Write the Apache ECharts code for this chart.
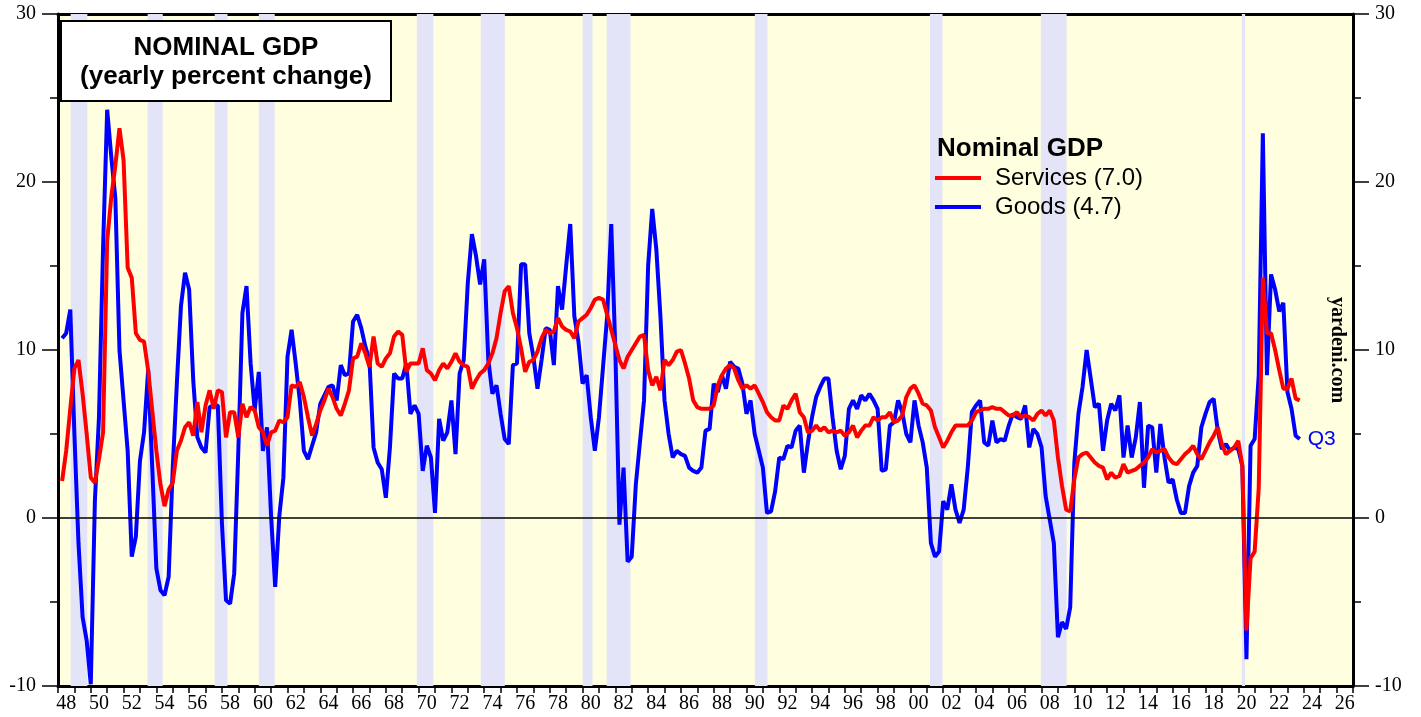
<!DOCTYPE html>
<html>
<head>
<meta charset="utf-8">
<title>Nominal GDP</title>
<script src="https://cdn.jsdelivr.net/npm/echarts@6/dist/echarts.min.js"></script>
<style>
    html, body { margin: 0; padding: 0; background: #fff; }
    #chart { width: 1421px; height: 717px; }
</style>
</head>
<body>
<div id="chart"></div>
<script>
/** data start */

// quarterly yearly percent change, first value = 1948 Q1 (plotted at quarter end)
var firstYear = 1948;

var services = [
    2.2, 4.0, 6.5, 8.9,      // 1948
    9.4, 7.4, 5.0, 2.4,
    2.1, 3.5, 5.1, 16.5,     // 1950
    19.1, 21.0, 23.2, 21.3,
    14.9, 14.3, 11.0, 10.6,
    10.5, 8.8, 6.4, 4.0,
    2.0, 0.7, 1.7, 2.1,
    4.0, 4.6, 5.4, 5.7,      // 1955
    4.9, 6.9, 5.1, 6.7,
    7.6, 6.5, 7.6, 7.5,
    4.8, 6.3, 6.3, 4.8,
    6.8, 6.0, 6.6, 6.4,
    5.4, 5.1, 4.3, 5.1,      // 1960
    5.2, 5.8, 5.7, 6.0,
    7.9, 7.8, 8.1, 7.2,
    6.0, 4.9, 5.6, 6.4,
    7.0, 7.7, 7.2, 6.5,
    6.1, 6.8, 7.6, 9.5,      // 1965
    9.6, 10.4, 9.8, 9.0,
    10.8, 9.2, 9.0, 9.5,
    9.8, 10.8, 11.1, 10.9,
    8.7, 9.2, 9.2, 9.2,
    10.1, 8.8, 8.6, 8.2,     // 1970
    8.8, 9.2, 8.9, 9.3,
    9.8, 9.3, 9.1, 9.0,
    7.7, 8.2, 8.6, 8.8,
    9.2, 9.8, 10.7, 12.2,
    13.5, 13.8, 12.2, 11.3,  // 1975
    10.1, 8.7, 9.3, 9.4,
    9.9, 10.7, 11.2, 11.0,
    11.1, 11.9, 11.4, 11.2,
    11.1, 10.7, 11.7, 11.9,
    12.1, 12.5, 13.0, 13.1,  // 1980
    13.0, 12.1, 11.2, 10.3,
    9.4, 8.9, 9.6, 10.0,
    10.4, 10.8, 10.9, 8.8,
    7.9, 8.4, 7.6, 9.4,
    9.1, 9.4, 9.9, 10.0,     // 1985
    9.2, 8.3, 7.0, 6.6,
    6.5, 6.5, 6.5, 6.7,
    7.9, 8.5, 8.9, 9.1,
    8.9, 8.2, 7.7, 7.9,
    7.7, 7.9, 7.4, 6.9,      // 1990
    6.3, 6.0, 5.8, 5.8,
    6.7, 6.5, 7.0, 7.4,
    6.3, 6.0, 5.1, 5.2,
    5.5, 5.2, 5.4, 5.1,
    5.2, 5.1, 5.2, 4.9,      // 1995
    5.1, 5.5, 4.8, 5.2,
    5.5, 5.5, 6.0, 5.8,
    6.0, 6.0, 6.3, 5.7,
    5.8, 6.1, 7.2, 7.7,
    7.9, 7.4, 6.8, 6.7,      // 2000
    6.4, 5.4, 4.8, 4.2,
    4.6, 5.1, 5.5, 5.5,
    5.5, 5.5, 5.8, 6.3,
    6.4, 6.5, 6.5, 6.6,
    6.5, 6.5, 6.3, 6.1,      // 2005
    6.1, 6.3, 6.0, 6.1,
    6.0, 5.8, 6.2, 6.4,
    6.1, 6.4, 5.8, 3.6,
    1.9, 0.5, 0.4, 2.3,
    3.6, 3.8, 3.9, 3.6,      // 2010
    3.3, 3.1, 3.0, 2.3,
    2.7, 2.4, 2.5, 3.2,
    2.7, 2.8, 2.9, 3.1,
    3.3, 3.6, 4.1, 3.9,
    4.0, 4.1, 3.6, 3.3,      // 2015
    3.2, 3.5, 3.8, 4.0,
    4.3, 3.8, 3.5, 4.0,
    4.5, 4.9, 5.4, 4.4,
    3.8, 4.0, 4.2, 4.6,
    3.1, -6.7, -2.4, -2.0,   // 2020
    1.8, 14.3, 11.0, 11.0,
    10.0, 8.8, 7.7, 7.7,
    8.3, 7.1, 7.0            // 2023 Q1-Q3
];

var goods = [
    10.7, 11.0, 12.4, 5.0,   // 1948
    -1.5, -5.9, -7.3, -9.9,
    1.0, 6.0, 16.1, 24.3,    // 1950
    21.5, 19.0, 10.0, 7.0,
    4.0, -2.3, -1.1, 3.4,
    5.1, 8.8, 3.0, -3.0,
    -4.3, -4.6, -3.5, 3.0,
    8.0, 12.6, 14.6, 13.6,   // 1955
    8.2, 4.8, 4.2, 3.9,
    6.6, 6.7, 6.7, -0.3,
    -4.9, -5.1, -3.3, 4.0,
    12.2, 13.8, 9.2, 6.4,
    8.7, 4.0, 5.4, 0.1,      // 1960
    -4.1, 0.1, 2.4, 9.6,
    11.2, 9.2, 7.0, 4.0,
    3.5, 4.3, 5.1, 6.8,
    7.3, 7.8, 7.9, 7.0,
    9.1, 8.5, 8.6, 11.7,     // 1965
    12.1, 11.3, 10.2, 9.4,
    4.2, 3.3, 2.9, 1.2,
    4.2, 8.6, 8.3, 8.3,
    9.2, 6.2, 6.7, 6.2,
    2.8, 4.3, 3.6, 0.3,      // 1970
    5.9, 4.6, 5.1, 7.0,
    3.8, 8.6, 9.4, 14.0,
    16.9, 15.6, 13.9, 15.4,
    9.4, 7.4, 7.9, 6.2,
    4.7, 4.4, 9.1, 9.2,      // 1975
    15.1, 15.1, 11.0, 9.6,
    7.7, 9.4, 11.3, 11.2,
    9.1, 13.8, 12.4, 15.0,
    17.5, 12.0, 10.5, 8.0,
    8.5, 6.0, 4.0, 6.0,      // 1980
    9.0, 12.0, 17.5, 10.0,
    -0.4, 3.0, -2.6, -2.3,
    2.0, 4.5, 7.0, 15.0,
    18.4, 16.0, 12.0, 7.0,
    5.0, 3.6, 4.0, 3.8,      // 1985
    3.7, 3.0, 2.8, 2.7,
    3.0, 5.2, 5.3, 8.0,
    7.5, 8.5, 7.7, 9.3,
    9.0, 8.9, 8.0, 6.2,
    7.0, 5.0, 4.0, 3.0,      // 1990
    0.3, 0.4, 1.6, 3.6,
    3.5, 4.3, 4.2, 5.2,
    5.5, 2.7, 4.5, 6.0,
    7.2, 7.8, 8.3, 8.3,
    6.0, 4.0, 2.9, 3.7,      // 1995
    6.5, 7.0, 6.5, 7.3,
    7.0, 7.4, 7.0, 6.5,
    2.8, 2.9, 5.5, 5.7,
    7.0, 6.3, 5.0, 4.5,
    7.0, 5.5, 4.5, 3.0,      // 2000
    -1.5, -2.3, -2.0, 1.0,
    0.5, 2.0, 0.5, -0.3,
    0.5, 3.0, 6.3, 6.7,
    7.0, 4.5, 4.3, 5.8,
    4.5, 4.7, 4.6, 5.5,      // 2005
    6.2, 6.0, 5.9, 6.7,
    4.2, 5.3, 5.0, 4.2,
    1.3, -0.1, -1.5, -7.1,
    -6.2, -6.6, -5.3, 3.3,
    6.2, 7.8, 10.0, 8.3,     // 2010
    6.6, 6.8, 4.0, 5.8,
    6.8, 6.4, 7.3, 3.6,
    5.5, 3.6, 4.8, 6.9,
    1.8, 5.5, 5.4, 2.7,
    5.6, 3.6, 2.1, 2.3,      // 2015
    1.1, 0.3, 0.3, 1.9,
    2.7, 3.1, 5.4, 6.2,
    6.9, 7.1, 5.2, 4.1,
    4.4, 4.0, 4.2, 4.1,
    3.1, -8.4, 4.3, 4.7,     // 2020
    8.5, 22.9, 8.5, 14.5,
    13.6, 12.3, 12.8, 7.5,
    6.5, 4.9, 4.7            // 2023 Q1-Q3
];

// recessions, in fractional years
var recessions = [
    [1948.77, 1949.79], [1953.47, 1954.39], [1957.56, 1958.34], [1960.25, 1961.22],
    [1969.89, 1970.90], [1973.79, 1975.26], [1980.01, 1980.61], [1981.47, 1982.93],
    [1990.51, 1991.28], [2001.19, 2001.96], [2007.96, 2009.53], [2020.22, 2020.42]
];

var yearLabels = [
    '48', '49', '50', '51', '52', '53', '54', '55', '56', '57',
    '58', '59', '60', '61', '62', '63', '64', '65', '66', '67',
    '68', '69', '70', '71', '72', '73', '74', '75', '76', '77',
    '78', '79', '80', '81', '82', '83', '84', '85', '86', '87',
    '88', '89', '90', '91', '92', '93', '94', '95', '96', '97',
    '98', '99', '00', '01', '02', '03', '04', '05', '06', '07',
    '08', '09', '10', '11', '12', '13', '14', '15', '16', '17',
    '18', '19', '20', '21', '22', '23', '24', '25', '26'
];

var seriesNames = ['Services (7.0)', 'Goods (4.7)'];
var lastQuarter = 'Q3';

/** data end */

(function () {

    var serif = 'Liberation Serif';
    var sans = 'Liberation Sans';

    /**
     * quarter index -> [year at quarter end, value]
     */
    function toPoints(values) {
        return values.map(function (v, i) {
            return [firstYear + (i + 1) / 4, v];
        });
    }

    function yAxisOf(position) {
        return {
            type: 'value',
            position: position,
            min: -10,
            max: 30,
            interval: 10,
            axisLine: { show: true, onZero: false, lineStyle: { color: '#000', width: 3 } },
            axisTick: { show: true, length: 16, lineStyle: { color: '#000', width: 1.5 } },
            minorTick: { show: true, splitNumber: 2, length: 8, lineStyle: { color: '#000', width: 1.5 } },
            axisLabel: { color: '#000', fontFamily: serif, fontSize: 20, margin: 22 },
            splitLine: { show: false },
            minorSplitLine: { show: false }
        };
    }

    var option = {
        animation: false,
        backgroundColor: '#fff',
        grid: {
            left: 58, right: 68, top: 14, bottom: 31,
            outerBoundsMode: 'none',
            show: true, backgroundColor: '#FFFFE0', borderWidth: 0
        },
        legend: {
            data: seriesNames,
            orient: 'vertical',
            left: 935,
            top: 166,
            padding: 0,
            itemGap: 5,
            itemWidth: 46,
            itemHeight: 4,
            icon: 'rect',
            selectedMode: false,
            textStyle: {
                color: '#000', fontFamily: sans, fontSize: 24, lineHeight: 24,
                padding: [0, 0, 0, 9]
            }
        },
        xAxis: [{
            type: 'value',
            min: 1948,
            max: 2027,
            position: 'top',
            axisLine: { show: true, onZero: false, lineStyle: { color: '#000', width: 3 } },
            axisTick: { show: false },
            axisLabel: { show: false },
            splitLine: { show: false }
        }, {
            type: 'category',
            data: yearLabels,
            position: 'bottom',
            boundaryGap: true,
            axisLine: { show: true, onZero: false, lineStyle: { color: '#000', width: 3 } },
            axisTick: { show: true, interval: 0, length: 7, lineStyle: { color: '#000', width: 1.5 } },
            axisLabel: { interval: 1, margin: 8, color: '#000', fontFamily: serif, fontSize: 20 },
            splitLine: { show: false }
        }],
        yAxis: [yAxisOf('left'), yAxisOf('right')],
        graphic: [{
            type: 'rect',
            z: 100,
            shape: { x: 61, y: 21, width: 330, height: 80 },
            style: { fill: '#fff', stroke: '#000', lineWidth: 2 }
        }, {
            type: 'text',
            z: 101,
            x: 226, y: 48,
            style: {
                text: 'NOMINAL GDP', fill: '#000', align: 'center', verticalAlign: 'middle',
                font: 'bold 26px "Liberation Sans"'
            }
        }, {
            type: 'text',
            z: 101,
            x: 226, y: 77,
            style: {
                text: '(yearly percent change)', fill: '#000', align: 'center', verticalAlign: 'middle',
                font: 'bold 26px "Liberation Sans"'
            }
        }, {
            type: 'text',
            z: 101,
            x: 937, y: 149,
            style: {
                text: 'Nominal GDP', fill: '#000', align: 'left', verticalAlign: 'middle',
                font: 'bold 26px "Liberation Sans"'
            }
        }, {
            type: 'text',
            z: 101,
            x: 1337, y: 350,
            rotation: -Math.PI / 2,
            style: {
                text: 'yardeni.com', fill: '#000', align: 'center', verticalAlign: 'middle',
                font: 'bold 20px "Liberation Serif"'
            }
        }],
        series: [{
            name: seriesNames[1],
            type: 'line',
            xAxisIndex: 0,
            yAxisIndex: 0,
            data: toPoints(goods),
            z: 2,
            showSymbol: false,
            color: '#0000FF',
            lineStyle: { color: '#0000FF', width: 4 },
            endLabel: {
                show: true, formatter: lastQuarter, distance: 8,
                color: '#0000FF', fontFamily: sans, fontSize: 21
            },
            markArea: {
                silent: true,
                itemStyle: { color: '#E4E4F8' },
                data: recessions.map(function (r) {
                    return [{ xAxis: r[0] }, { xAxis: r[1] }];
                })
            },
            markLine: {
                silent: true,
                symbol: ['none', 'none'],
                label: { show: false },
                lineStyle: { color: '#000', width: 1.5, type: 'solid' },
                data: [{ yAxis: 0 }]
            }
        }, {
            name: seriesNames[0],
            type: 'line',
            xAxisIndex: 0,
            yAxisIndex: 0,
            data: toPoints(services),
            z: 3,
            showSymbol: false,
            color: '#FF0000',
            lineStyle: { color: '#FF0000', width: 4 }
        }]
    };

    var myChart = echarts.init(document.getElementById('chart'));
    myChart.setOption(option);
})();
</script>
</body>
</html>
